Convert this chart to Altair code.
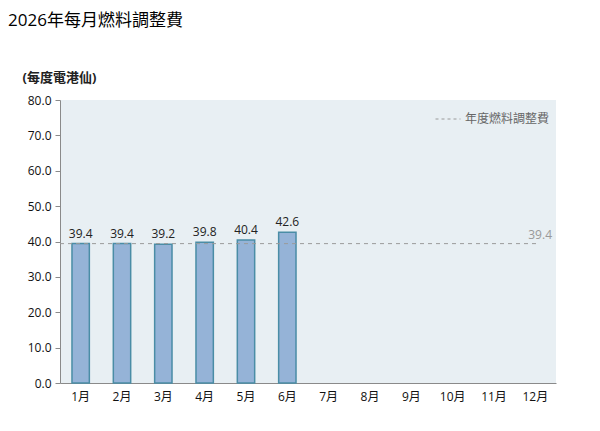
import altair as alt
import pandas as pd

months = ["1月", "2月", "3月", "4月", "5月", "6月", "7月", "8月", "9月", "10月", "11月", "12月"]
values = [39.4, 39.4, 39.2, 39.8, 40.4, 42.6, None, None, None, None, None, None]
annual_value = 39.4
annual_label = "年度燃料調整費"
y_ticks = [0, 10, 20, 30, 40, 50, 60, 70, 80]

FONT = "Open Sans, Noto Sans CJK TC, sans-serif"
W, H = 496, 283

df = pd.DataFrame({"month": months, "value": values})
ref = pd.DataFrame({"value": [annual_value], "series": [annual_label]})

x_axis = alt.Axis(title=None, labelAngle=0, labelFontSize=12, labelColor="#111",
                  labelPadding=8, ticks=False, domainColor="#8a8a8a", labelFont=FONT)
y_axis = alt.Axis(values=y_ticks, tickCount=9, format=".1f", grid=False, title="(每度電港仙)",
                  labelOverlap=False,
                  titleAngle=0, titleAlign="left", titleBaseline="middle",
                  titleX=-38, titleY=-23, titleFontSize=13, titleFontWeight="bold",
                  titleColor="#222", titleFont=FONT,
                  labelFontSize=12, labelColor="#111", labelFont=FONT,
                  tickSize=5, tickColor="#8a8a8a", domainColor="#8a8a8a", labelPadding=4)
x_scale = alt.Scale(paddingInner=0.58, paddingOuter=0.29)
y_scale = alt.Scale(domain=[0, 80], nice=False)

bars = alt.Chart(df).mark_bar(fill="#95B3D7", stroke="#4A8DA6", strokeWidth=1.5).encode(
    x=alt.X("month:N", sort=months, scale=x_scale, axis=x_axis),
    y=alt.Y("value:Q", scale=y_scale, axis=y_axis),
)

labels = alt.Chart(df).mark_text(dy=-10, fontSize=12, color="#222", font=FONT).encode(
    x=alt.X("month:N", sort=months, scale=x_scale, axis=x_axis),
    y=alt.Y("value:Q", scale=y_scale, axis=y_axis),
    text=alt.Text("value:Q", format=".1f"),
)

rule = alt.Chart(ref).mark_rule(strokeDash=[4, 4], strokeWidth=1).encode(
    y=alt.Y("value:Q", scale=y_scale, axis=y_axis),
    x=alt.value(0), x2=alt.value(W - 16),
    color=alt.Color("series:N", scale=alt.Scale(range=["#9a9a9a"]),
                    legend=alt.Legend(title=None, orient="top-right", symbolType="stroke",
                                      symbolDash=[3, 3], symbolSize=625, symbolStrokeWidth=1,
                                      labelFontSize=12, labelColor="#666", labelFont=FONT,
                                      offset=6, padding=0)),
)

rule_label = alt.Chart(ref).mark_text(align="right", dy=-9, fontSize=12, color="#999", font=FONT).encode(
    y=alt.Y("value:Q", scale=y_scale, axis=y_axis),
    x=alt.value(W - 4),
    text=alt.Text("value:Q", format=".1f"),
)

chart = alt.layer(bars, labels, rule, rule_label).properties(
    width=W, height=H,
    title=alt.TitleParams("2026年每月燃料調整費", anchor="start", frame="group", fontSize=17,
                          fontWeight="normal", color="#000", font=FONT, dx=-52, offset=41),
    autosize=alt.AutoSizeParams(type="none"),
    padding={"left": 52, "top": 92, "right": 30, "bottom": 40},
).configure(background="white").configure_view(fill="#E8EFF3", stroke=None)

chart.save("out.html", embed_options={"renderer": "svg", "actions": False})
